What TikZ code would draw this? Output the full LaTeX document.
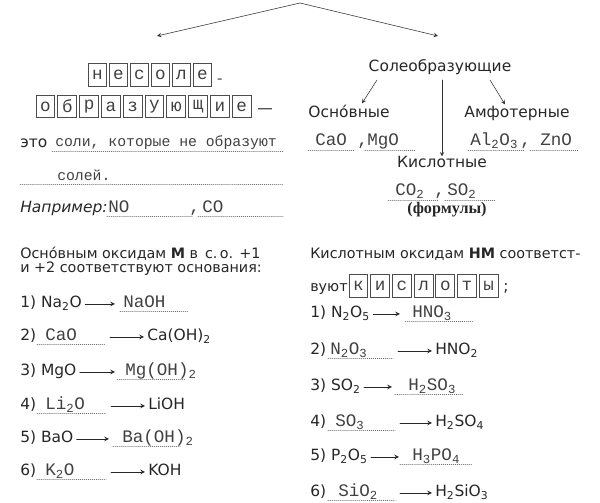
\documentclass[tikz,border=0pt]{standalone}
\usepackage{fontspec}
\setmainfont{Liberation Serif}
\setsansfont{DejaVu Sans}
\setmonofont{Liberation Mono}
\usetikzlibrary{calc}
\tikzset{
  txt/.style={font=\sffamily\fontsize{11}{13}\selectfont, anchor=base west, inner sep=0pt, text=black!85},
  head/.style={txt, font=\sffamily\fontsize{10.2}{12}\selectfont},
  ans/.style={font=\ttfamily\fontsize{12.5}{14}\selectfont, anchor=base west, inner sep=0pt, text=black!75},
  defn/.style={ans, font=\ttfamily\fontsize{10.5}{12}\selectfont},
  blank/.style={densely dotted, black!55, line width=0.4pt},
  letter/.style={draw=black!70, line width=0.6pt, minimum width=0.47cm, minimum height=0.57cm, inner sep=0pt, font=\ttfamily\fontsize{12.5}{13}\selectfont, text=black!75},
  rxn/.style={->, black!85, line width=0.5pt}
}
\begin{document}
\begin{tikzpicture}[x=0.025cm, y=-0.025cm, >=stealth, line cap=round]
\useasboundingbox (0,0) rectangle (600,503);
\coordinate (apex) at (300,3);
\coordinate (lt) at (157,36);
\coordinate (rt) at (438,36);
\draw[->, black!80] (apex) -- (lt);
\draw[->, black!80] (apex) -- (rt);

\foreach \l [count=\i from 0] in {н,е,с,о,л,е}
  \node[letter] (ns\i) at (97.5+21*\i,75) {\l};
\node[defn] (hy) at (215,84) {-};
\foreach \l [count=\i from 0] in {о,б,р,а,з,у,ю,щ,и,е}
  \node[letter] (ob\i) at (45.5+21.8*\i,106.5) {\l};
\node[txt] (dash) at (257,114) {—};

\node[txt] (eto) at (20,148) {это};
\node[defn] (def1) at (55,147) {соли, которые не образуют};
\draw[blank] (52,151) -- (283,151);
\node[defn] (def2) at (57,181) {солей.};
\draw[blank] (20,184) -- (283,184);
\node[txt] (ex) at (20,213) {\itshape Например:};
\node[ans] (no) at (108,213) {NO};
\node[ans] (c1) at (189,213) {,};
\node[ans] (co) at (202,213) {CO};
\draw[blank] (107,216) -- (193,216);
\draw[blank] (198,216) -- (283,216);

\node[txt, anchor=base] (sol) at (440,72) {Солеобразующие};
\node[txt, anchor=base] (osn) at (349,118) {Осно́вные};
\node[txt, anchor=base] (amf) at (517,118) {Амфотерные};
\node[txt, anchor=base] (kisl) at (442,168) {Кислотные};
\draw[->, black!80] ($(sol.base)+(-63,8)$) -- ($(osn.north)+(13,-2)$);
\draw[->, black!80] ($(sol.base)+(50,8)$) -- ($(amf.north)+(-12,-2)$);
\draw[->, black!80] ($(sol.base)+(2,8)$) -- (kisl.north);
\node[ans] (cao) at (315,146) {CaO};
\node[ans] (c2) at (357,146) {,};
\node[ans] (mgo) at (367,146) {MgO};
\draw[blank] (308,150) -- (355,150);
\draw[blank] (365,150) -- (415,150);
\node[ans] (alo) at (470,146) {Al\textsubscript{2}O\textsubscript{3}};
\node[ans] (c3) at (520,146) {,};
\node[ans] (zno) at (540,146) {ZnO};
\draw[blank] (468,150) -- (525,150);
\draw[blank] (530,150) -- (578,150);
\node[ans] (co2) at (395,196) {CO\textsubscript{2}};
\node[ans] (c4) at (434,196) {,};
\node[ans] (so2) at (447,196) {SO\textsubscript{2}};
\draw[blank] (388,200) -- (438,200);
\draw[blank] (445,200) -- (495,200);
\node[anchor=base, inner sep=0pt, font=\bfseries\fontsize{11.5}{13}\selectfont, text=black!85] (frm) at (447,214) {(формулы)};

\node[head] (lh1) at (20,259) {Осно́вным оксидам \textbf{М} в\, с.\,о. +1};
\node[head] (lh2) at (20,273) {и +2 соответствуют основания:};

\node[txt] (la1) at (20,308) {1) Na\textsubscript{2}O};
\node[ans] (lb1) at (123,308) {NaOH};
\draw[blank] (120,311) -- (188,311);
\draw[rxn] ($(la1.base east)+(3,-4)$) -- ($(lb1.base west)+(-8,-4)$);

\node[txt] (la2) at (20,341) {2)};
\node[ans] (lb2) at (45,341) {CaO};
\draw[blank] (37,344) -- (105,344);
\coordinate (ls2) at (110,337);
\node[txt] (lc2) at (147,341) {Ca(OH)\textsubscript{2}};
\draw[rxn] (ls2) -- ($(lc2.base west)+(-3,-4)$);

\node[txt] (la3) at (20,376) {3) MgO};
\node[ans] (lb3) at (125,376) {Mg(OH)\textsubscript{2}};
\draw[blank] (117,379) -- (185,379);
\draw[rxn] ($(la3.base east)+(3,-4)$) -- ($(lb3.base west)+(-10,-4)$);

\node[txt] (la4) at (20,410) {4)};
\node[ans] (lb4) at (45,410) {Li\textsubscript{2}O};
\draw[blank] (37,413) -- (106,413);
\coordinate (ls4) at (111,406);
\node[txt] (lc4) at (148,410) {LiOH};
\draw[rxn] (ls4) -- ($(lc4.base west)+(-3,-4)$);

\node[txt] (la5) at (20,443) {5) BaO};
\node[ans] (lb5) at (122,443) {Ba(OH)\textsubscript{2}};
\draw[blank] (113,446) -- (180,446);
\draw[rxn] ($(la5.base east)+(3,-4)$) -- ($(lb5.base west)+(-13,-4)$);

\node[txt] (la6) at (20,476) {6)};
\node[ans] (lb6) at (45,476) {K\textsubscript{2}O};
\draw[blank] (37,479) -- (106,479);
\coordinate (ls6) at (111,472);
\node[txt] (lc6) at (148,476) {KOH};
\draw[rxn] (ls6) -- ($(lc6.base west)+(-3,-4)$);

\node[head] (rh1) at (310,259) {Кислотным оксидам \textbf{НМ} соответст-};
\node[head] (rh2) at (310,292) {вуют};
\foreach \l [count=\i from 0] in {к,и,с,л,о,т,ы}
  \node[letter] (ks\i) at (358.5+21.7*\i,286) {\l};
\node[txt] (semi) at (503,292) {;};

\node[txt] (ra1) at (310,318) {1) N\textsubscript{2}O\textsubscript{5}};
\node[ans] (rb1) at (412,318) {HNO\textsubscript{3}};
\draw[blank] (405,321) -- (473,321);
\draw[rxn] ($(ra1.base east)+(3,-4)$) -- ($(rb1.base west)+(-12,-4)$);

\node[txt] (ra2) at (310,355) {2)};
\node[ans] (rb2) at (330,355) {N\textsubscript{2}O\textsubscript{3}};
\draw[blank] (328,358) -- (393,358);
\coordinate (rs2) at (398,351);
\node[txt] (rc2) at (435,355) {HNO\textsubscript{2}};
\draw[rxn] (rs2) -- ($(rc2.base west)+(-3,-4)$);

\node[txt] (ra3) at (310,391) {3) SO\textsubscript{2}};
\node[ans] (rb3) at (408,391) {H\textsubscript{2}SO\textsubscript{3}};
\draw[blank] (395,394) -- (463,394);
\draw[rxn] ($(ra3.base east)+(3,-4)$) -- ($(rb3.base west)+(-16,-4)$);

\node[txt] (ra4) at (310,427) {4)};
\node[ans] (rb4) at (335,427) {SO\textsubscript{3}};
\draw[blank] (328,430) -- (395,430);
\coordinate (rs4) at (400,423);
\node[txt] (rc4) at (435,427) {H\textsubscript{2}SO\textsubscript{4}};
\draw[rxn] (rs4) -- ($(rc4.base west)+(-3,-4)$);

\node[txt] (ra5) at (310,461) {5) P\textsubscript{2}O\textsubscript{5}};
\node[ans] (rb5) at (412,461) {H\textsubscript{3}PO\textsubscript{4}};
\draw[blank] (400,464) -- (472,464);
\draw[rxn] ($(ra5.base east)+(3,-4)$) -- ($(rb5.base west)+(-13,-4)$);

\node[txt] (ra6) at (310,497) {6)};
\node[ans] (rb6) at (338,497) {SiO\textsubscript{2}};
\draw[blank] (328,500) -- (395,500);
\coordinate (rs6) at (400,493);
\node[txt] (rc6) at (435,497) {H\textsubscript{2}SiO\textsubscript{3}};
\draw[rxn] (rs6) -- ($(rc6.base west)+(-3,-4)$);
\end{tikzpicture}
\end{document}
